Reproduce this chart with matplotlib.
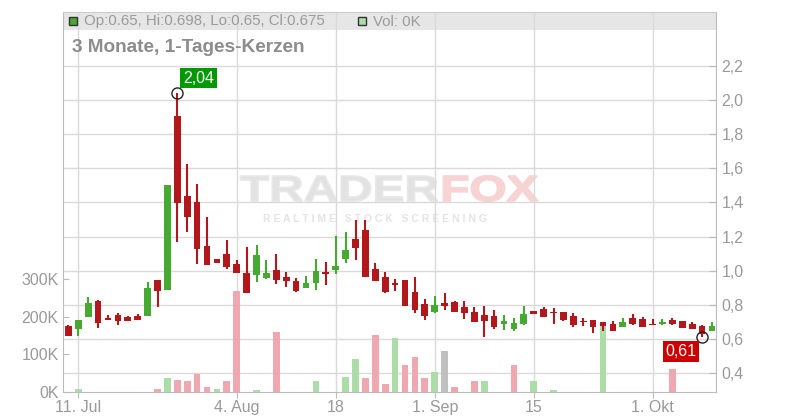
import numpy as np
import matplotlib
matplotlib.use("Agg")
import matplotlib.pyplot as plt
from matplotlib.patches import Rectangle, PathPatch
from matplotlib.textpath import TextPath
from matplotlib.font_manager import FontProperties
from matplotlib.transforms import Affine2D

plt.rcParams['font.family'] = ['Liberation Sans', 'DejaVu Sans']

# --- data: daily candles (trading-day index 0 = 10 Jul) ---
opens = [0.677, 0.661, 0.731, 0.823, 0.726, 0.741, 0.729, 0.735, 0.735, 0.946,
         0.887, 1.905, 1.437, 1.402, 1.145, 1.069, 1.098, 1.039, 0.987, 0.975,
         0.959, 1.004, 0.963, 0.940, 0.901, 0.930, 0.995, 1.006, 1.071, 1.186,
         1.238, 1.010, 0.963, 0.921, 0.946, 0.876, 0.805, 0.761, 0.811, 0.817,
         0.788, 0.759, 0.741, 0.735, 0.690, 0.661, 0.690, 0.765, 0.776, 0.753,
         0.757, 0.737, 0.702, 0.710, 0.698, 0.687, 0.673, 0.722, 0.716, 0.687,
         0.690, 0.710, 0.704, 0.688, 0.675, 0.650]
highs = [0.683, 0.712, 0.846, 0.829, 0.741, 0.755, 0.735, 0.747, 0.934, 0.946,
         1.501, 2.040, 1.624, 1.507, 1.316, 1.069, 1.180, 1.063, 1.137, 1.150,
         1.063, 1.098, 0.993, 0.956, 0.969, 1.069, 1.051, 1.203, 1.226, 1.297,
         1.297, 1.047, 0.993, 0.952, 0.946, 0.963, 0.835, 0.852, 0.870, 0.823,
         0.823, 0.788, 0.794, 0.770, 0.741, 0.724, 0.794, 0.765, 0.788, 0.782,
         0.757, 0.751, 0.722, 0.710, 0.698, 0.704, 0.724, 0.747, 0.729, 0.718,
         0.716, 0.724, 0.704, 0.700, 0.685, 0.698]
lows = [0.618, 0.618, 0.731, 0.667, 0.714, 0.683, 0.708, 0.714, 0.735, 0.790,
        0.887, 1.170, 1.228, 1.041, 1.035, 1.047, 1.010, 0.989, 0.872, 0.936,
        0.952, 0.924, 0.907, 0.876, 0.901, 0.889, 0.919, 0.983, 1.047, 1.063,
        0.965, 0.942, 0.870, 0.881, 0.796, 0.755, 0.714, 0.755, 0.772, 0.761,
        0.720, 0.702, 0.614, 0.661, 0.655, 0.650, 0.685, 0.749, 0.731, 0.690,
        0.708, 0.673, 0.677, 0.638, 0.650, 0.650, 0.673, 0.685, 0.673, 0.681,
        0.685, 0.681, 0.663, 0.659, 0.610, 0.650]
closes = [0.618, 0.712, 0.811, 0.696, 0.714, 0.708, 0.708, 0.714, 0.899, 0.883,
          1.501, 1.398, 1.316, 1.129, 1.035, 1.047, 1.024, 0.989, 0.872, 1.092,
          0.987, 0.948, 0.942, 0.883, 0.928, 0.998, 0.983, 1.028, 1.121, 1.135,
          0.965, 0.942, 0.878, 0.918, 0.796, 0.772, 0.737, 0.800, 0.796, 0.761,
          0.755, 0.702, 0.708, 0.673, 0.706, 0.694, 0.747, 0.749, 0.731, 0.751,
          0.712, 0.685, 0.698, 0.673, 0.679, 0.650, 0.700, 0.690, 0.673, 0.681,
          0.700, 0.690, 0.663, 0.659, 0.630, 0.675]
# volume in thousands and its colour class (u = up, d = down, n = unchanged)
volumes = [0, 9, 0, 0, 0, 0, 0, 0, 0, 9,
           36, 33, 30, 49, 14, 9, 30, 270, 0, 4,
           0, 161, 0, 0, 0, 30, 0, 0, 41, 89,
           38, 153, 22, 145, 73, 94, 38, 54, 108, 14,
           0, 30, 28, 0, 0, 73, 0, 28, 0, 4,
           0, 0, 0, 0, 177, 0, 0, 0, 0, 0,
           0, 62, 0, 0, 0, 0]
vol_dir = ["d", "u", "u", "d", "u", "d", "d", "u", "u", "d",
           "u", "d", "d", "d", "d", "u", "d", "d", "d", "u",
           "d", "d", "d", "d", "u", "u", "d", "u", "u", "u",
           "d", "d", "d", "u", "d", "d", "d", "u", "n", "d",
           "d", "d", "u", "d", "u", "d", "u", "u", "d", "u",
           "d", "d", "u", "d", "u", "d", "u", "d", "d", "u",
           "u", "d", "d", "d", "d", "u"]

tick_pos = [1, 17, 27, 37, 47, 59]
tick_labels = ["11. Jul", "4. Aug", "18", "1. Sep", "15", "1. Okt"]
price_ticks = [0.4, 0.6, 0.8, 1.0, 1.2, 1.4, 1.6, 1.8, 2.0, 2.2]
vol_ticks = [0, 100, 200, 300]

RED = "#b2181b"
GREEN = "#46a932"
VRED = "#f0a8b0"
VGREEN = "#acdca8"
VGRAY = "#c0c0c0"
TXT = "#9a9a9a"

W, H = 800, 420
fig = plt.figure(figsize=(W / 100, H / 100), dpi=100, facecolor="white")
L, R, B, T = 63, 716, 392, 12
ax = fig.add_axes([L / W, (H - B) / H, (R - L) / W, (B - T) / H])
ax.set_facecolor("none")
ax_vol = ax.twinx()
ax_c = ax.twinx()

idx = np.arange(len(opens))
o, hi, lo, c = map(np.array, (opens, highs, lows, closes))

# base axes: grid + price ticks
ax.set_xlim(-0.545, 65.41)
ax.set_ylim(0.2905, 2.515)
ax.set_yticks(price_ticks)
ax.set_yticklabels([f"{v:.1f}".replace(".", ",") for v in price_ticks])
ax.yaxis.tick_right()
ax.set_xticks(tick_pos)
ax.set_xticklabels(tick_labels)
ax.grid(True, color="#dadada", linewidth=1)
ax.set_axisbelow(True)
ax.tick_params(axis="y", direction="in", length=5, color="#bbbbbb",
               labelcolor=TXT, labelsize=11.5, pad=4)
ax.tick_params(axis="x", direction="out", length=4, color="#bbbbbb",
               labelcolor=TXT, labelsize=11.5, pad=2)
for s in ["left", "right", "bottom"]:
    ax.spines[s].set_color("#bbbbbb")
ax.spines["top"].set_color("#cccccc")

# volume axes
vcol = {"u": VGREEN, "d": VRED, "n": VGRAY}
ax_vol.bar(idx, volumes, width=0.68, color=[vcol[d] for d in vol_dir], linewidth=0)
ax_vol.set_ylim(0, 1013)
ax_vol.yaxis.tick_left()
ax_vol.set_yticks(vol_ticks)
ax_vol.set_yticklabels([f"{v}K" for v in vol_ticks])
ax_vol.tick_params(axis="y", direction="in", length=4, color="#bbbbbb",
                   labelcolor=TXT, labelsize=11.5, pad=3)
for s in ax_vol.spines.values():
    s.set_visible(False)

# candles
ax_c.set_ylim(ax.get_ylim())
ax_c.set_axis_off()
colors = np.where(c > o, GREEN, RED)
ax_c.vlines(idx, lo, hi, colors=colors, linewidth=1.5, zorder=2)
ax_c.bar(idx, np.maximum(np.abs(c - o), 0.009), bottom=np.minimum(o, c),
         width=0.68, color=colors, linewidth=0, zorder=3)

# max / min markers
imax = int(np.argmax(hi))
imin = int(np.argmin(lo))
for i, val, box, off, ha, va in [(imax, hi[imax], "#009a00", (4, 5.5), "left", "bottom"),
                                 (imin, lo[imin], "#cc0000", (-4, -5), "right", "top")]:
    ax_c.plot(i, val, marker="o", ms=8, mfc="none", mec="#222222", mew=1, zorder=5,
              clip_on=False)
    ax_c.annotate(f"{val:.2f}".replace(".", ","), (i, val), xytext=off,
                  textcoords="offset points", ha=ha, va=va, color="white",
                  fontsize=11.5, zorder=6,
                  bbox=dict(boxstyle="square,pad=0.18", fc=box, ec="none"))

# header band and legend text (figure pixel coords)
def fy(y):
    return 1 - y / H

fig.patches.append(Rectangle((L / W, fy(30)), (R - L) / W, 18 / H, transform=fig.transFigure,
                             facecolor="#e6e6e6", edgecolor="none", zorder=-1))
fig.patches.append(Rectangle((69 / W, fy(25)), 8 / W, 8 / H, transform=fig.transFigure,
                             facecolor=GREEN, edgecolor="#333333", linewidth=1, zorder=3))
fig.patches.append(Rectangle((358 / W, fy(25)), 8 / W, 8 / H, transform=fig.transFigure,
                             facecolor=VGREEN, edgecolor="#333333", linewidth=1, zorder=3))
fig.text(84 / W, fy(21.5), f"Op:{opens[-1]:.2f}, Hi:0.698, Lo:{lows[-1]:.2f}, Cl:{closes[-1]:.3f}",
         color=TXT, fontsize=10.8, va="center", ha="left")
fig.text(373 / W, fy(21.5), f"Vol: {volumes[-1]}K", color=TXT, fontsize=10.8,
         va="center", ha="left")
fig.text(72 / W, fy(47), "3 Monate, 1-Tages-Kerzen", color="#8c8c8c", fontsize=13.7,
         fontweight="bold", va="center", ha="left")

# watermark
fp = FontProperties(family="Liberation Sans", weight="bold")
p1 = TextPath((0, 0), "TRADER", size=1, prop=fp)
p2 = TextPath((0, 0), "FOX", size=1, prop=fp)
e1, e2 = p1.get_extents(), p2.get_extents()
cap = e1.y1
sy = 25 / cap
sx = 298 / (e1.x1 + 0.05 + e2.x1)
x0, base = 240, 201
for path, dx, col in [(p1, 0, "#e2e2e2"), (p2, e1.x1 + 0.05, "#f7d3d3")]:
    tr = Affine2D().translate(dx, 0).scale(sx, sy).translate(x0, H - base).scale(1 / W, 1 / H) + fig.transFigure
    fig.patches.append(PathPatch(path, transform=tr, facecolor=col, edgecolor="#e8e8e8" if dx == 0 else "#f7d3d3",
                                 linewidth=1.2, zorder=-0.5))
fig.text(375 / W, fy(219), "R E A L T I M E   S T O C K   S C R E E N I N G",
         color="#e4e4e4", fontsize=7.6, fontweight="bold", ha="center", va="center",
         zorder=-0.5)

fig.savefig("out.png", dpi=100, facecolor="white")
